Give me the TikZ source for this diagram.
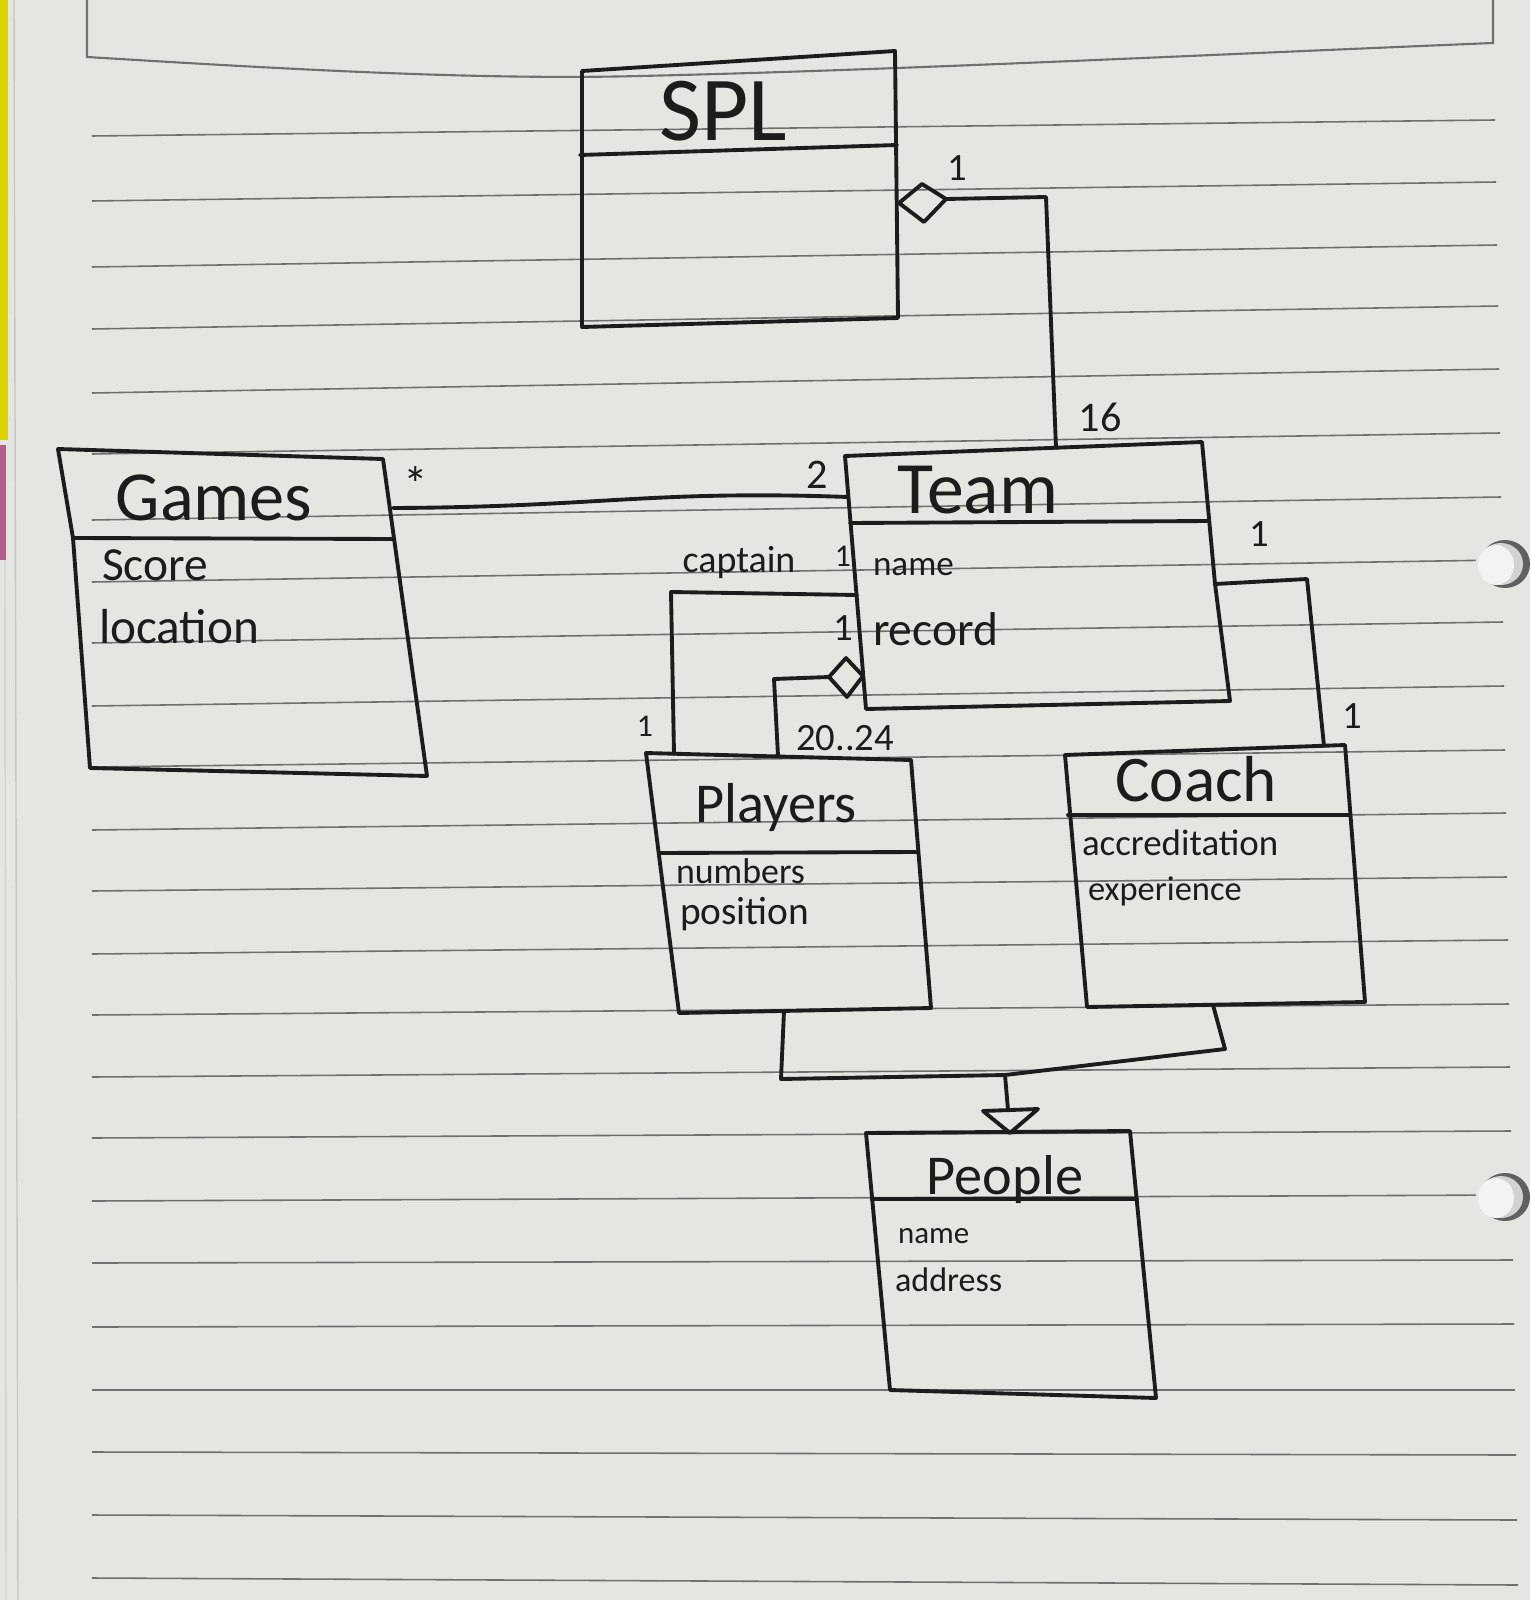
\documentclass[tikz,border=0pt]{standalone}
\usepackage{fontspec}
\setmainfont{Carlito}
\usetikzlibrary{calc}
\definecolor{paper}{HTML}{E5E5E1}
\definecolor{rulegray}{HTML}{707070}
\definecolor{ink}{HTML}{1C1C1C}
\definecolor{holewhite}{HTML}{F3F3F1}
\newcommand{\fsz}[1]{\fontsize{#1}{#1}\selectfont}

\begin{document}
\begin{tikzpicture}[x=0.01cm,y=-0.01cm,
  pen/.style={draw=ink,line width=1.1pt,line join=round,line cap=round},
  ruling/.style={draw=rulegray,line width=0.45pt},
  hand/.style={text=ink,inner sep=0pt,outer sep=0pt},
  title/.style={hand,anchor=base},
  attr/.style={hand,anchor=base west},
  mult/.style={hand,anchor=base,font=\fsz{11}},
]
% sheet of ruled paper
\fill[paper] (0,0) rectangle (1530,1600);
\useasboundingbox (0,0) rectangle (1530,1600);
\fill[yellow!70!olive] (0,0) rectangle (8,440);
\fill[magenta!60!black!80] (0,445) rectangle (6,560);
\draw[gray!45,line width=0.4pt] (14,0) -- (18,1600);
\draw[gray!35,line width=0.4pt] (5,560) -- (6,1600);

% header frame of the sheet
\draw[ruling,line width=0.6pt] (87,0) -- (87,57)
  .. controls (300,70) and (480,80) .. (640,76)
  .. controls (900,70) and (1200,55) .. (1493,43) -- (1493,0);

% ruled lines (left end / right end heights)
\foreach \yl/\yr [count=\i] in {136/120,201/182,267/245,329/306,393/369,454/433,
  520/497,582/560,643/622,706/686,767/750,830/813,891/877,954/940,1015/1004,
  1077/1067,1138/1131,1201/1195,1263/1260,1327/1324,1390/1390,1452/1455,
  1515/1520,1578/1585}
  \draw[ruling] (92,\yl) -- ({1494+\i},\yr);

% punched holes on the right edge
\foreach \hy in {564,1197}{
  \fill[paper] (1476,\hy-30) rectangle (1530,\hy+30);
  \fill[gray!75!black] (1505,\hy) ellipse (25 and 24);
  \fill[gray!35] (1501,\hy) ellipse (22 and 21);
  \fill[holewhite] (1496,\hy+1) ellipse (18 and 20);
}

% ---------- class boxes ----------
% SPL
\coordinate (spl-tl) at (582,71);  \coordinate (spl-tr) at (895,51);
\coordinate (spl-br) at (898,318); \coordinate (spl-bl) at (582,327);
\draw[pen] (spl-tl) -- (spl-tr) -- (spl-br) -- (spl-bl) -- cycle;
\draw[pen] (580,155) -- (897,145);
\node[title,font=\fsz{26}] (spl) at (723,141) {SPL};

% Games
\coordinate (gam-tl) at (58,449);  \coordinate (gam-tr) at (383,459);
\coordinate (gam-br) at (427,776); \coordinate (gam-bl) at (90,768);
\draw[pen] (gam-tl) -- (gam-tr) -- (gam-br) -- (gam-bl) -- (73,538) -- cycle;
\draw[pen] (73,538) -- (394,539);
\node[title,font=\fsz{20}] (games) at (214,520) {Games};
\node[attr,font=\fsz{13.5}] (score) at (102,580) {Score};
\node[attr,font=\fsz{14}] (location) at (99,643) {location};

% Team
\coordinate (tm-tl) at (845,456);  \coordinate (tm-tr) at (1202,442);
\coordinate (tm-mr) at (1215,584);
\coordinate (tm-br) at (1230,701); \coordinate (tm-bl) at (866,709);
\draw[pen] (tm-tl) -- (tm-tr) -- (tm-mr) -- (tm-br) -- (tm-bl) -- cycle;
\draw[pen] (850,523) -- (1209,521);
\node[title,font=\fsz{21}] (team) at (978,513) {Team};
\node[attr,font=\fsz{10}] (tname) at (873,575) {name};
\node[attr,font=\fsz{13.5}] (record) at (873,645) {record};

% Players
\coordinate (pl-tl) at (646,753);  \coordinate (pl-tr) at (911,760);
\coordinate (pl-br) at (931,1008); \coordinate (pl-bl) at (679,1013);
\draw[pen] (pl-tl) -- (pl-tr) -- (pl-br) -- (pl-bl) -- cycle;
\draw[pen] (659,853) -- (918,852);
\node[title,font=\fsz{16}] (players) at (776,822) {Players};
\node[attr,font=\fsz{10.2}] (numbers) at (676,883) {numbers};
\node[attr,font=\fsz{11.2}] (position) at (680,924) {position};

% Coach
\coordinate (co-tl) at (1065,755);  \coordinate (co-tr) at (1345,745);
\coordinate (co-br) at (1365,1002); \coordinate (co-bl) at (1087,1007);
\draw[pen] (co-tl) -- (co-tr) -- (co-br) -- (co-bl) -- cycle;
\draw[pen] (1068,815) -- (1350,815);
\node[title,font=\fsz{18.5}] (coach) at (1196,801) {Coach};
\node[attr,font=\fsz{10.5}] (accr) at (1082,855) {accreditation};
\node[attr,font=\fsz{9.8}] (exper) at (1088,900) {experience};

% People
\coordinate (pe-tl) at (866,1133);  \coordinate (pe-tr) at (1130,1131);
\coordinate (pe-br) at (1156,1398); \coordinate (pe-bl) at (890,1390);
\draw[pen] (pe-tl) -- (pe-tr) -- (pe-br) -- (pe-bl) -- cycle;
\draw[pen] (872,1199) -- (1137,1199);
\node[title,font=\fsz{16}] (people) at (1005,1194) {People};
\node[attr,font=\fsz{8.8}] (pname) at (898,1243) {name};
\node[attr,font=\fsz{9.7}] (address) at (895,1291) {address};

% ---------- connectors ----------
% SPL <>-- Team (aggregation)
\coordinate (d1-l) at (899,203); \coordinate (d1-t) at (922,184);
\coordinate (d1-r) at (946,199); \coordinate (d1-b) at (924,222);
\coordinate (c1-k) at (1046,197); \coordinate (c1-e) at (1056,448);
\draw[pen] (d1-l) -- (d1-t) -- (d1-r) -- (d1-b) -- cycle;
\draw[pen] (d1-r) -- (c1-k) -- (c1-e);
\node[mult] (m-spl) at (957,180) {1};
\node[mult,font=\fsz{12}] (m-16) at (1100,431) {16};

% Games -- Team
\coordinate (c2-s) at (393,508); \coordinate (c2-e) at (848,497);
\draw[pen] (c2-s) .. controls (600,507) and (650,490) .. (c2-e);
\node[hand,font=\fsz{14}] (m-star) at (416,484) {*};
\node[mult,font=\fsz{12}] (m-2) at (817,488) {2};

% captain: Team -- Players
\coordinate (c3-s) at (857,595); \coordinate (c3-k) at (671,592);
\coordinate (c3-e) at (674,754);
\draw[pen] (c3-s) -- (c3-k) -- (c3-e);
\node[hand,anchor=base,font=\fsz{10.8}] (captain) at (739,572) {captain};
\node[mult,font=\fsz{9}] (m-cap1) at (843,566) {1};
\node[mult,font=\fsz{9}] (m-cap2) at (645,736) {1};

% Team <>-- Players (aggregation)
\coordinate (d2-r) at (863,676); \coordinate (d2-t) at (846,658);
\coordinate (d2-l) at (829,677); \coordinate (d2-b) at (847,697);
\coordinate (c4-k) at (774,679); \coordinate (c4-e) at (778,756);
\draw[pen] (d2-r) -- (d2-t) -- (d2-l) -- (d2-b) -- cycle;
\draw[pen] (d2-l) -- (c4-k) -- (c4-e);
\node[mult] (m-agg1) at (843,640) {1};
\node[hand,anchor=base,font=\fsz{11}] (m-2024) at (845,750) {20..24};

% Team -- Coach
\coordinate (c5-k) at (1307,579); \coordinate (c5-e) at (1324,746);
\draw[pen] (tm-mr) -- (c5-k) -- (c5-e);
\node[mult] (m-tc1) at (1259,546) {1};
\node[mult] (m-tc2) at (1352,728) {1};

% generalization: Players, Coach --|> People
\coordinate (g-p) at (784,1011); \coordinate (g-pk) at (781,1079);
\coordinate (g-j) at (1005,1075);
\coordinate (g-c) at (1213,1005); \coordinate (g-ck) at (1225,1049);
\coordinate (g-t) at (1008,1110);
\coordinate (tri-l) at (983,1111); \coordinate (tri-r) at (1038,1109);
\coordinate (tri-a) at (1010,1133);
\draw[pen] (g-p) -- (g-pk) -- (g-j) -- (g-ck) -- (g-c);
\draw[pen] (g-j) -- (g-t);
\draw[pen] (tri-l) -- (tri-r) -- (tri-a) -- cycle;
\end{tikzpicture}
\end{document}
